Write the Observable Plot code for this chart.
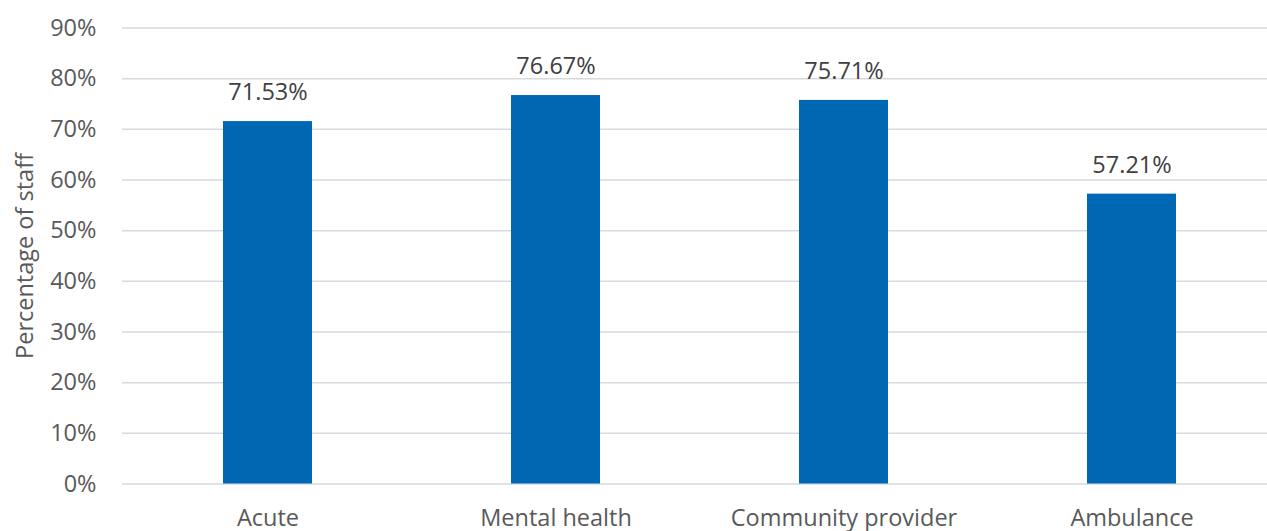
<!DOCTYPE html>
<html>
<head>
<meta charset="utf-8">
<script src="https://cdn.jsdelivr.net/npm/d3@7"></script>
<script src="https://cdn.jsdelivr.net/npm/@observablehq/plot@0.6"></script>
<style>
  html, body { margin: 0; padding: 0; background: #fff; }
  #chart svg { display: block; }
</style>
</head>
<body>
<div id="chart"></div>
<script>
const categories = ["Acute", "Mental health", "Community provider", "Ambulance"];
const values = [71.53, 76.67, 75.71, 57.21];
const yTicks = [0, 10, 20, 30, 40, 50, 60, 70, 80, 90];
const yTitle = "Percentage of staff";

const data = categories.map((c, i) => ({category: c, value: values[i]}));

const W = 1267, H = 531;
const mLeft = 122, mTop = 27.5, mBottom = 47.5;
const font = "'Open Sans', sans-serif";
const fs = 23.5;

const chart = Plot.plot({
  width: W,
  height: H,
  marginLeft: mLeft,
  marginRight: 0,
  marginTop: mTop,
  marginBottom: mBottom,
  style: {fontFamily: font, fontSize: fs + "px", background: "#fff", color: "#595959", overflow: "visible"},
  x: {domain: categories, range: [mLeft, 1277], paddingInner: 0.69, paddingOuter: 0.345, label: null},
  y: {domain: [0, 90], label: null},
  marks: [
    Plot.ruleY(yTicks, {stroke: "#d9d9d9", strokeWidth: 1.5}),
    Plot.barY(data, {x: "category", y: "value", fill: "#0068B3"}),
    Plot.text(data, {x: "category", y: "value", text: d => d.value.toFixed(2) + "%", dy: -29, lineAnchor: "middle", fill: "#404040", fontSize: fs}),
    Plot.axisY({ticks: yTicks, tickFormat: d => d + "%", tickSize: 0, tickPadding: 26, label: null, fill: "#595959", fontSize: fs}),
    Plot.axisX({tickSize: 0, tickPadding: 25, label: null, fill: "#595959", fontSize: fs}),
    Plot.text([yTitle], {frameAnchor: "left", textAnchor: "middle", rotate: -90, dx: -97, fill: "#595959", fontSize: fs})
  ]
});
document.getElementById("chart").appendChild(chart);
</script>
</body>
</html>
